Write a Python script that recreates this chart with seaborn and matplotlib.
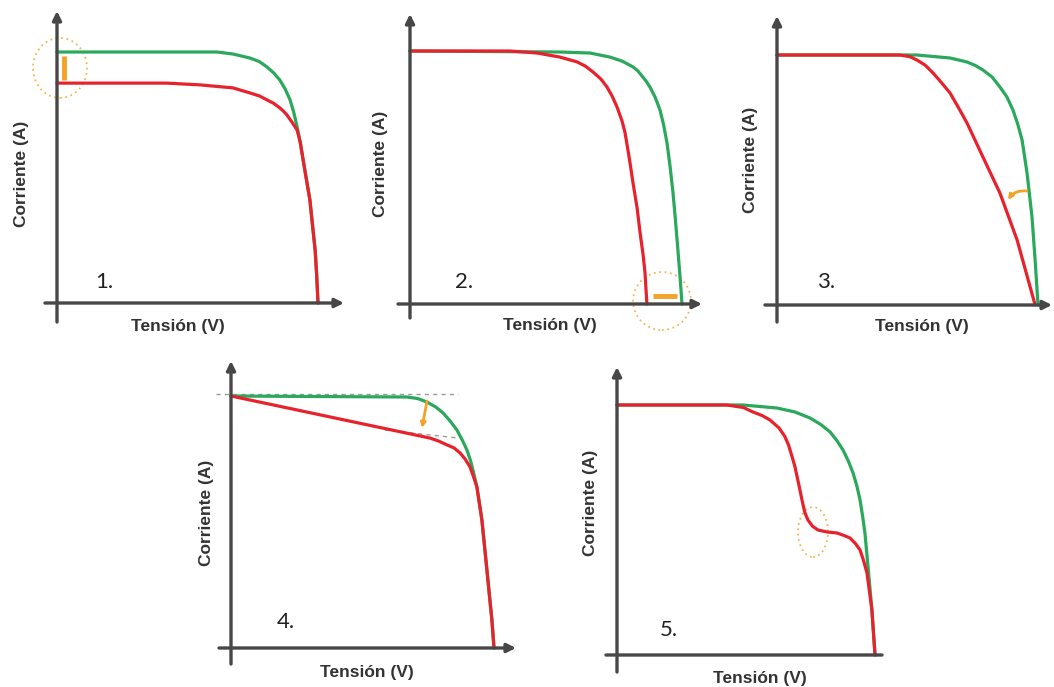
import numpy as np
import pandas as pd
import matplotlib
matplotlib.use("Agg")
import matplotlib.pyplot as plt
import seaborn as sns
from matplotlib.patches import Ellipse

# ---------------- DATA (normalized: V / Voc_ref , I / Isc_ref) ----------------
# Panel 1: lower irradiance / reduced Isc
p1_green_v = [0.0, 0.613, 0.674, 0.739, 0.775, 0.805, 0.831, 0.854, 0.874, 0.893, 0.907, 0.920,
              0.932, 0.943, 0.956, 0.969, 0.979, 0.989, 0.995, 1.0]
p1_green_i = [1.0, 1.0, 0.992, 0.976, 0.962, 0.940, 0.916, 0.888, 0.853, 0.809, 0.760, 0.701,
              0.640, 0.570, 0.490, 0.410, 0.310, 0.211, 0.110, 0.0]
p1_red_v = [0.0, 0.421, 0.548, 0.674, 0.739, 0.775, 0.805, 0.831, 0.854, 0.869, 0.881, 0.900,
            0.920, 0.932, 0.943, 0.956, 0.969, 0.979, 0.989, 0.995, 1.0]
p1_red_i = [0.876, 0.876, 0.869, 0.857, 0.837, 0.825, 0.809, 0.795, 0.777, 0.763, 0.749, 0.721,
            0.689, 0.640, 0.570, 0.490, 0.410, 0.310, 0.211, 0.110, 0.0]

# Panel 2: reduced Voc
p2_green_v = [0.0, 0.551, 0.662, 0.735, 0.780, 0.820, 0.838, 0.853, 0.868, 0.882, 0.901, 0.919,
              0.932, 0.945, 0.956, 0.967, 0.976, 0.985, 0.993, 1.0]
p2_green_i = [1.0, 0.996, 0.992, 0.976, 0.960, 0.937, 0.921, 0.901, 0.881, 0.858, 0.818, 0.767,
              0.710, 0.636, 0.545, 0.439, 0.330, 0.213, 0.105, 0.0]
p2_red_v = [0.0, 0.368, 0.467, 0.551, 0.614, 0.645, 0.673, 0.702, 0.724, 0.743, 0.761, 0.779,
            0.790, 0.798, 0.809, 0.820, 0.835, 0.846, 0.857, 0.864, 0.871]
p2_red_i = [1.0, 1.0, 0.992, 0.976, 0.957, 0.940, 0.917, 0.889, 0.858, 0.822, 0.779, 0.725,
            0.680, 0.630, 0.557, 0.478, 0.379, 0.281, 0.194, 0.123, 0.0]

# Panel 3: increased series resistance
p3_green_v = [0.0, 0.536, 0.663, 0.728, 0.760, 0.789, 0.824, 0.854, 0.881, 0.904, 0.922, 0.939,
              0.958, 0.977, 0.989, 1.0]
p3_green_i = [1.0, 1.0, 0.988, 0.972, 0.958, 0.940, 0.912, 0.872, 0.832, 0.780, 0.725, 0.660,
              0.528, 0.352, 0.180, 0.0]
p3_red_v = [0.0, 0.471, 0.510, 0.536, 0.567, 0.598, 0.628, 0.663, 0.695, 0.728, 0.789, 0.854,
            0.920, 0.989]
p3_red_i = [1.0, 1.0, 0.993, 0.980, 0.960, 0.928, 0.892, 0.848, 0.790, 0.728, 0.592, 0.448,
            0.260, 0.0]

# Panel 4: reduced shunt resistance
p4_green_v = [0.0, 0.669, 0.710, 0.745, 0.779, 0.806, 0.833, 0.859, 0.879, 0.897, 0.910, 0.920,
              0.935, 0.954, 0.973, 0.992, 1.0]
p4_green_i = [1.0, 0.996, 0.990, 0.976, 0.956, 0.933, 0.901, 0.865, 0.826, 0.786, 0.746, 0.706,
              0.639, 0.508, 0.310, 0.111, 0.0]
p4_red_v = [0.0, 0.376, 0.757, 0.790, 0.821, 0.848, 0.871, 0.890, 0.909, 0.922, 0.935, 0.954,
            0.973, 0.992, 1.0]
p4_red_i = [1.0, 0.917, 0.833, 0.821, 0.806, 0.794, 0.774, 0.750, 0.718, 0.680, 0.639, 0.508,
            0.310, 0.111, 0.0]

# Panel 5: mismatch / bypass step
p5_green_v = [0.0, 0.488, 0.620, 0.690, 0.748, 0.790, 0.826, 0.852, 0.876, 0.897, 0.915, 0.930,
              0.942, 0.952, 0.961, 0.973, 0.988, 1.0]
p5_green_i = [1.0, 1.0, 0.988, 0.972, 0.948, 0.922, 0.892, 0.858, 0.820, 0.775, 0.728, 0.675,
              0.620, 0.555, 0.488, 0.352, 0.180, 0.0]
p5_red_v = [0.0, 0.426, 0.490, 0.527, 0.562, 0.593, 0.628, 0.650, 0.665, 0.678, 0.690, 0.705,
            0.717, 0.728, 0.740, 0.758, 0.779, 0.815, 0.853, 0.880, 0.903, 0.925, 0.942, 0.955,
            0.969, 0.988, 1.0]
p5_red_i = [1.0, 1.0, 0.990, 0.972, 0.958, 0.940, 0.908, 0.875, 0.840, 0.795, 0.752, 0.680,
            0.620, 0.570, 0.540, 0.515, 0.500, 0.492, 0.488, 0.478, 0.468, 0.445, 0.420, 0.380,
            0.328, 0.180, 0.0]

panel_labels = ["1.", "2.", "3.", "4.", "5."]
xlabel = "Tensión (V)"
ylabel = "Corriente (A)"

# ---------------- STYLE ----------------
sns.set_theme(style="white")
GREEN = "#2aa85c"
RED = "#e8222c"
ORANGE = "#f2a328"
AXC = "#474747"
TXT = "#333333"
W, H = 1054, 687

fig = plt.figure(figsize=(W / 100, H / 100), dpi=100)
fig.patch.set_facecolor("white")


def make_panel(box, origin, vref, iref):
    x0, y0, x1, y1 = box
    ox, oy = origin
    sx = vref - ox
    sy = oy - iref
    ax = fig.add_axes([x0 / W, 1 - y1 / H, (x1 - x0) / W, (y1 - y0) / H])
    ax.set_xlim((x0 - ox) / sx, (x1 - ox) / sx)
    ax.set_ylim((oy - y1) / sy, (oy - y0) / sy)
    ax.axis("off")

    def d(px, py):
        return ((px - ox) / sx, (oy - py) / sy)

    def dw(wpx, hpx):
        return (wpx / sx, hpx / sy)

    return ax, d, dw


def draw_axes(ax, d, ybot, ytop, xleft, xright, xarrow=True):
    ax.annotate("", xy=d(*ytop), xytext=d(*ybot),
                arrowprops=dict(arrowstyle="-|>", color=AXC, lw=2.4,
                                mutation_scale=13, shrinkA=0, shrinkB=0),
                annotation_clip=False)
    style = "-|>" if xarrow else "-"
    ax.annotate("", xy=d(*xright), xytext=d(*xleft),
                arrowprops=dict(arrowstyle=style, color=AXC, lw=2.4,
                                mutation_scale=13, shrinkA=0, shrinkB=0),
                annotation_clip=False)


def curve(ax, v, i, color):
    df = pd.DataFrame({"V": v, "I": i})
    sns.lineplot(data=df, x="V", y="I", ax=ax, color=color, lw=2.3,
                 sort=False, estimator=None, legend=False)
    ax.lines[-1].set_solid_joinstyle("round")
    ax.set_xlabel("")
    ax.set_ylabel("")


def labels(ax, d, xl, yl, nl, num):
    ax.text(*d(*xl), xlabel, ha="center", va="center", fontsize=12.5,
            fontweight="bold", color=TXT, family="Liberation Sans")
    ax.text(*d(*yl), ylabel, ha="center", va="center", fontsize=12.5,
            fontweight="bold", color=TXT, family="Liberation Sans", rotation=90)
    ax.text(*d(*nl), num, ha="left", va="center", fontsize=16,
            color="#222222", family="Lato")


# ---------------- PANEL 1 ----------------
ax1, d1, w1 = make_panel((0, 0, 352, 345), (57, 303), 318, 52)
draw_axes(ax1, d1, (57, 322), (57, 11), (45, 303), (344, 303))
curve(ax1, p1_green_v, p1_green_i, GREEN)
curve(ax1, p1_red_v, p1_red_i, RED)
ax1.add_patch(Ellipse(d1(60, 68), *w1(54, 60), fill=False, ec=ORANGE,
                      lw=1.3, ls=(0, (1, 2)), alpha=0.8))
ax1.plot(*zip(d1(64, 56), d1(64, 80)), color=ORANGE, lw=3.5, solid_capstyle="butt")
labels(ax1, d1, (178, 327), (22, 174), (95, 282), panel_labels[0])

# ---------------- PANEL 2 ----------------
ax2, d2, w2 = make_panel((355, 0, 705, 345), (410, 304), 682, 51)
draw_axes(ax2, d2, (410, 318), (410, 14), (398, 304), (702, 304))
curve(ax2, p2_green_v, p2_green_i, GREEN)
curve(ax2, p2_red_v, p2_red_i, RED)
ax2.add_patch(Ellipse(d2(662, 301), *w2(58, 58), fill=False, ec=ORANGE,
                      lw=1.3, ls=(0, (1, 2)), alpha=0.8))
ax2.plot(*zip(d2(653, 296), d2(677, 296)), color=ORANGE, lw=3.5, solid_capstyle="butt")
labels(ax2, d2, (550, 326), (380, 164), (455, 282), panel_labels[1])

# ---------------- PANEL 3 ----------------
ax3, d3, w3 = make_panel((705, 0, 1054, 345), (777, 305), 1038, 55)
draw_axes(ax3, d3, (777, 322), (777, 16), (765, 305), (1052, 305))
curve(ax3, p3_green_v, p3_green_i, GREEN)
curve(ax3, p3_red_v, p3_red_i, RED)
ax3.annotate("", xy=d3(1008, 200), xytext=d3(1027, 191),
             arrowprops=dict(arrowstyle="-|>", color=ORANGE, lw=2.0,
                             mutation_scale=7, shrinkA=0, shrinkB=0,
                             connectionstyle="arc3,rad=0.3"))
labels(ax3, d3, (922, 327), (750, 160), (817, 282), panel_labels[2])

# ---------------- PANEL 4 ----------------
ax4, d4, w4 = make_panel((180, 350, 540, 687), (231, 648), 494, 396)
draw_axes(ax4, d4, (231, 664), (231, 361), (219, 648), (516, 648))
ax4.plot(*zip(d4(216, 394), d4(458, 394)), color="#9a9a9a", lw=1.0, ls=(0, (3, 3)))
ax4.plot(*zip(d4(385, 430), d4(458, 438)), color="#9a9a9a", lw=1.0, ls=(0, (3, 3)))
curve(ax4, p4_green_v, p4_green_i, GREEN)
curve(ax4, p4_red_v, p4_red_i, RED)
ax4.annotate("", xy=d4(422, 428), xytext=d4(427, 401),
             arrowprops=dict(arrowstyle="-|>", color=ORANGE, lw=2.0,
                             mutation_scale=7, shrinkA=0, shrinkB=0))
labels(ax4, d4, (367, 672), (207, 513), (277, 622), panel_labels[3])

# ---------------- PANEL 5 ----------------
ax5, d5, w5 = make_panel((560, 350, 890, 687), (617, 655), 875, 405)
draw_axes(ax5, d5, (617, 672), (617, 367), (606, 655), (882, 655), xarrow=False)
curve(ax5, p5_green_v, p5_green_i, GREEN)
curve(ax5, p5_red_v, p5_red_i, RED)
ax5.add_patch(Ellipse(d5(813, 532), *w5(30, 50), fill=False, ec=ORANGE,
                      lw=1.3, ls=(0, (1, 2)), alpha=0.8))
labels(ax5, d5, (760, 679), (590, 503), (660, 630), panel_labels[4])

fig.savefig("out.png", dpi=100, facecolor="white")
